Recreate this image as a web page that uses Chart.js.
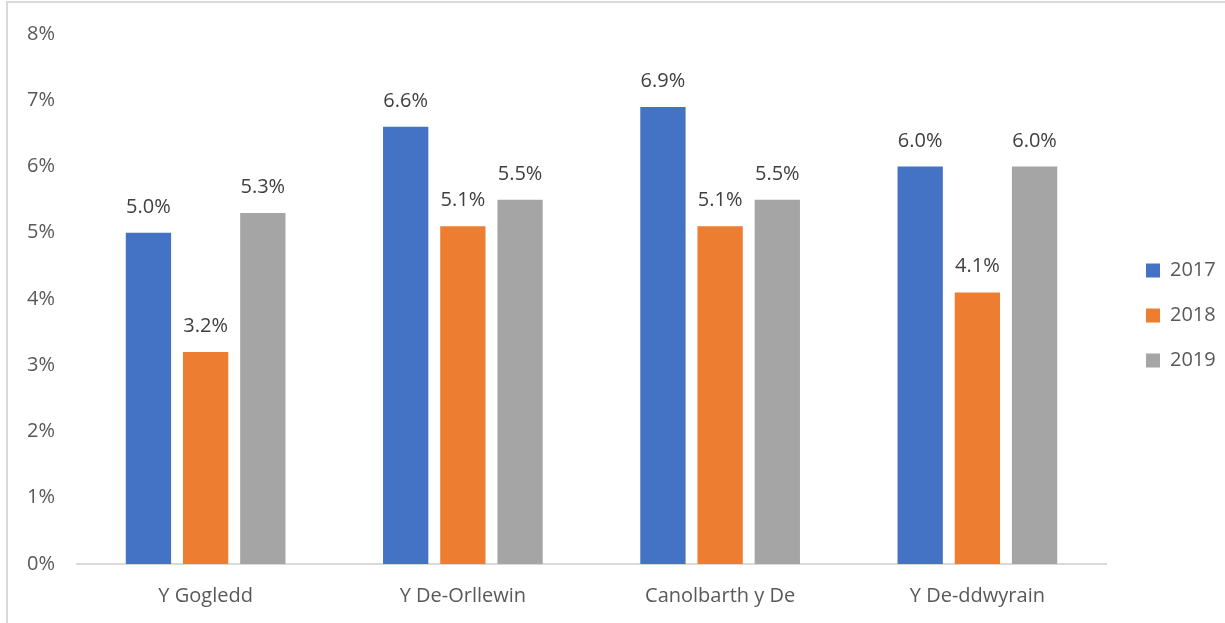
<!DOCTYPE html>
<html>
<head>
<meta charset="utf-8">
<script src="https://cdn.jsdelivr.net/npm/chart.js@4.4.1/dist/chart.umd.min.js"></script>
<style>
  html, body { margin: 0; padding: 0; background: #fff; }
  #wrap { position: relative; width: 1225px; height: 623px; overflow: hidden; }
  #wrap canvas { position: absolute; left: 0; top: 0; }
  #frame { position: absolute; left: 6px; top: 1px; right: 0; bottom: 0;
           border-top: 2px solid #d9d9d9; border-left: 2px solid #d9d9d9; pointer-events: none; }
</style>
</head>
<body>
<div id="wrap">
  <canvas id="chart" width="1225" height="623"></canvas>
  <div id="frame"></div>
</div>
<script>
// Regions and yearly shares (%)
const regions = ['Y Gogledd', 'Y De-Orllewin', 'Canolbarth y De', 'Y De-ddwyrain'];
const years = ['2017', '2018', '2019'];
const values2017 = [5.0, 6.6, 6.9, 6.0];
const values2018 = [3.2, 5.1, 5.1, 4.1];
const values2019 = [5.3, 5.5, 5.5, 6.0];
const yTickValues = [0, 1, 2, 3, 4, 5, 6, 7, 8];

const FONT = '"Open Sans", "Liberation Sans", sans-serif';

// Prints each bar's value above it
const valueLabels = {
  id: 'valueLabels',
  afterDatasetsDraw(chart) {
    const ctx = chart.ctx;
    ctx.save();
    ctx.font = '20px ' + FONT;
    ctx.fillStyle = '#404040';
    ctx.textAlign = 'center';
    ctx.textBaseline = 'alphabetic';
    chart.data.datasets.forEach((ds, i) => {
      chart.getDatasetMeta(i).data.forEach((bar, j) => {
        ctx.fillText(ds.data[j].toFixed(1) + '%', bar.x, bar.y - 20);
      });
    });
    ctx.restore();
  }
};

// Fixed-width legend column on the right, nudged into place
const legendPlacement = {
  id: 'legendPlacement',
  afterInit(chart) {
    const lg = chart.legend;
    const fit = lg.fit;
    lg.fit = function () { fit.call(this); this.width = 119; };
  },
  afterLayout(chart) {
    const lg = chart.legend;
    lg.left += 15; lg.right += 15;
    lg.top -= 12; lg.bottom -= 12;
  }
};

function draw() {
  new Chart(document.getElementById('chart'), {
    type: 'bar',
    data: {
      labels: regions,
      datasets: [
        { label: years[0], data: values2017, backgroundColor: '#4472C4' },
        { label: years[1], data: values2018, backgroundColor: '#ED7D31' },
        { label: years[2], data: values2019, backgroundColor: '#A5A5A5' }
      ]
    },
    options: {
      responsive: false,
      animation: false,
      devicePixelRatio: 1,
      datasets: { bar: { categoryPercentage: 0.667, barPercentage: 0.792, borderWidth: 0 } },
      layout: { padding: { top: 32, left: 0, right: 0, bottom: 0 } },
      scales: {
        x: {
          grid: { display: false, drawTicks: false },
          border: { display: true, color: '#d9d9d9', width: 2 },
          ticks: { color: '#595959', font: { family: FONT, size: 20 }, padding: 20 },
          afterFit(s) { s.height = 59; }
        },
        y: {
          min: 0,
          max: yTickValues[yTickValues.length - 1],
          afterBuildTicks(s) { s.ticks = yTickValues.map(v => ({ value: v })); },
          grid: { display: false, drawTicks: false },
          border: { display: false },
          ticks: { color: '#595959', font: { family: FONT, size: 20 }, padding: 22,
                   callback: v => v + '%' },
          afterFit(s) { s.width = 77; }
        }
      },
      plugins: {
        legend: {
          position: 'right',
          align: 'center',
          labels: { boxWidth: 14, boxHeight: 14, padding: 25, color: '#595959',
                    font: { family: FONT, size: 20 } }
        },
        tooltip: { enabled: false }
      }
    },
    plugins: [valueLabels, legendPlacement]
  });
}

if (document.fonts && document.fonts.load) {
  document.fonts.load('20px "Open Sans"').then(draw, draw);
} else {
  draw();
}
</script>
</body>
</html>
